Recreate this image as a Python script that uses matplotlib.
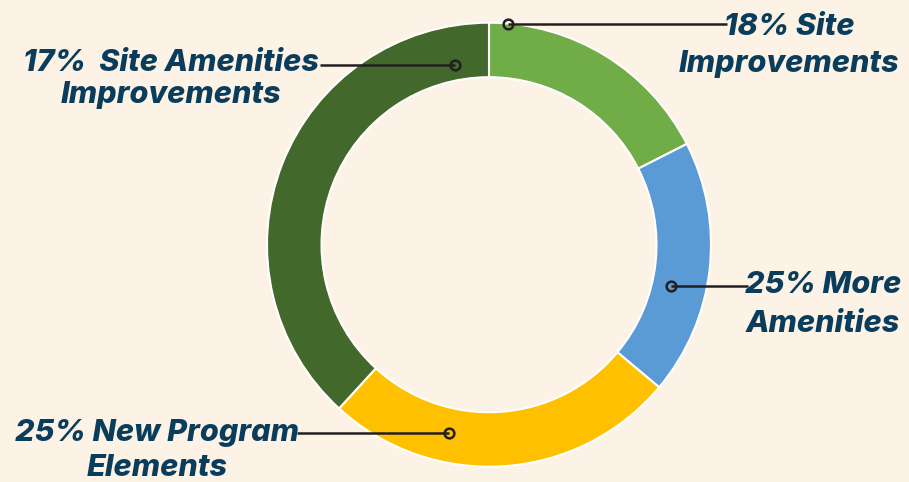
import matplotlib
matplotlib.use('Agg')
import matplotlib.pyplot as plt

# ---- data (wedge sizes as drawn, labels as printed) ----
categories = ['Site Improvements', 'More Amenities', 'New Program Elements',
              'Site Amenities Improvements']
shares = [17.5, 18.6, 25.7, 38.2]
label_line1 = ['18% Site', '25% More', '25% New Program', '17%  Site Amenities']
label_line2 = ['Improvements', 'Amenities', 'Elements', 'Improvements']

colors = ['#70AD47', '#5B9BD5', '#FFC000', '#43682B']
bg = '#FCF2E5'
text_color = '#0A3D5C'
line_color = '#231F20'

W, H = 909, 482
fig = plt.figure(figsize=(W / 100, H / 100), dpi=100)
fig.patch.set_facecolor(bg)
ax = fig.add_axes([0, 0, 1, 1])
ax.set_facecolor(bg)

def py(y):
    return H - y

cx, cy, R = 489, 244.7, 222
ax.pie(shares, colors=colors, startangle=90, counterclock=False,
       radius=R, center=(cx, py(cy)),
       wedgeprops=dict(width=54.5, edgecolor='white', linewidth=1.5))
ax.set_xlim(0, W)
ax.set_ylim(0, H)
ax.set_aspect('equal')
ax.axis('off')

# connector: marker point, line end
markers = [(508, 24), (671, 286), (449, 432.5), (455, 64.5)]
line_ends = [727, 748, 297, 320]
text_cx = [789, 823, 157, 171]
base1 = [35, 293, 440.7, 71]
base2 = [72, 331.7, 475.5, 103]

font = dict(family=['Inter', 'DejaVu Sans'], weight='heavy', style='italic',
            size=22, color=text_color)

for i in range(len(categories)):
    mx, my = markers[i]
    ax.plot([mx, line_ends[i]], [py(my), py(my)], color=line_color, lw=1.8,
            solid_capstyle='butt', zorder=3)
    ax.plot([mx], [py(my)], 'o', ms=7, mfc='none', mec=line_color, mew=1.8,
            zorder=4)
    ax.text(text_cx[i], py(base1[i]), label_line1[i], ha='center',
            va='baseline', **font)
    ax.text(text_cx[i], py(base2[i]), label_line2[i], ha='center',
            va='baseline', **font)

fig.savefig('out.png', dpi=100, facecolor=bg)
